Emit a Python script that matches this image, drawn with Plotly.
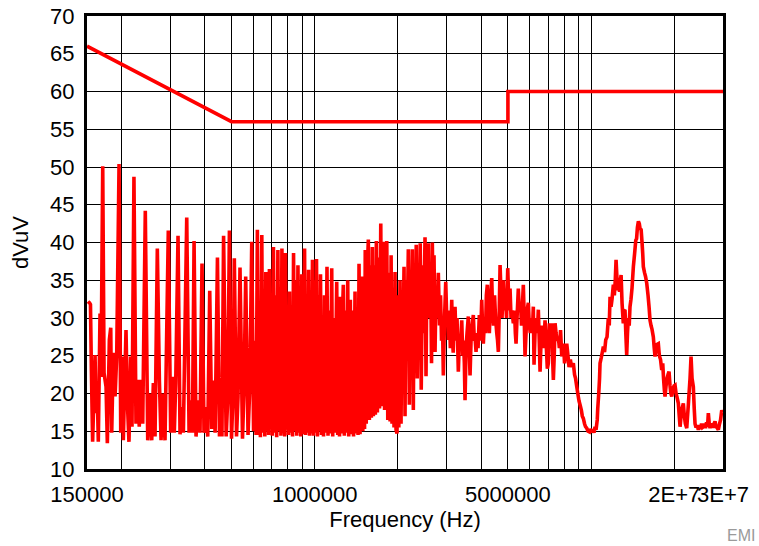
import math
import plotly.graph_objects as go

# ---------------------------------------------------------------------------
# Conducted EMI scan (dBuV) versus frequency, with the CISPR class limit line.
# Scan frequencies are stored in kHz; levels in dBuV.
# ---------------------------------------------------------------------------

# 150 kHz - 615 kHz: switching harmonics standing above the noise floor
harm_khz = [
    151.3, 153.2, 154.4, 155.6, 157.2, 160.4, 161.7, 163.4, 164.8, 167.2,
    168.6, 171.0, 172.9, 175.8, 177.7, 180.7, 182.8, 184.3, 186.8, 189.5,
    192.1, 195.9, 198.7, 201.3, 203.0, 207.6, 209.8, 212.8, 215.8, 218.2,
    221.8, 225.6, 228.8, 231.8, 235.2, 238.6, 243.8, 248.8, 253.6, 257.2,
    260.7, 264.4, 269.5, 274.1, 278.0, 281.8, 287.3, 295.3, 301.2, 306.3,
    310.4, 314.1, 320.2, 325.6, 330.3, 334.8, 344.3, 351.1, 357.0, 360.9,
    366.0, 372.0, 379.3, 384.6, 391.0, 397.6, 404.3, 410.1, 417.0, 424.1,
    430.6, 436.1, 444.7, 452.3, 457.7, 461.6, 468.0, 478.1, 484.3, 491.3,
    500.0, 506.3, 511.8, 521.3, 527.8, 536.6, 547.9, 554.8, 562.7, 573.7,
    582.4, 591.8, 600.8, 608.4, 613.5,
]
harm_db = [
    32.2, 32.0, 31.8, 23.0, 13.6, 25.1, 17.4, 20.0, 13.6, 30.6,
    22.2, 50.1, 22.7, 20.9, 13.4, 27.1, 28.7, 14.8, 25.4, 19.6,
    24.9, 50.4, 14.8, 24.9, 13.8, 28.4, 19.1, 13.6, 24.9, 15.6,
    48.7, 16.0, 21.8, 15.6, 21.8, 16.0, 44.2, 13.8, 20.0, 13.8,
    21.4, 14.3, 39.2, 21.8, 13.8, 20.0, 13.8, 41.6, 14.8, 22.2,
    14.8, 21.4, 40.9, 14.6, 18.2, 14.8, 43.3, 14.8, 19.1, 14.8,
    40.2, 14.3, 19.1, 14.8, 37.2, 14.8, 18.2, 14.3, 33.6, 15.3,
    21.7, 14.8, 38.0, 14.3, 18.6, 14.3, 40.9, 14.3, 19.1, 41.6,
    14.0, 20.0, 37.9, 14.3, 19.5, 36.7, 14.0, 20.5, 35.5, 14.5,
    21.0, 40.1, 15.0, 27.0, 14.5,
]

# 620 kHz - 2.7 MHz: densely packed harmonics
dense_khz = [
    620.2, 625.4, 630.7, 636.0, 643.5, 648.9, 654.3, 659.8, 665.3, 670.9,
    676.5, 681.0, 685.6, 690.8, 696.6, 702.5, 709.0, 715.0, 722.3, 728.4,
    735.8, 742.0, 748.2, 754.6, 760.9, 767.3, 773.7, 778.9, 784.1, 790.7,
    797.3, 804.0, 810.7, 817.5, 824.4, 831.3, 838.3, 845.3, 853.8, 861.0,
    869.6, 876.9, 884.3, 890.2, 897.6, 905.1, 912.7, 918.8, 926.5, 934.3,
    942.1, 950.0, 958.0, 966.0, 974.1, 981.4, 989.7, 998.0, 1006.4, 1014.8,
    1023.3, 1031.9, 1040.5, 1049.3, 1058.0, 1066.9, 1075.9, 1084.9, 1093.9, 1107.7,
    1117.0, 1127.3, 1136.7, 1152.1, 1161.7, 1172.4, 1182.2, 1201.1, 1211.2, 1220.3,
    1229.5, 1237.8, 1248.1, 1258.5, 1269.0, 1279.7, 1292.6, 1303.4, 1316.5, 1327.5,
    1336.4, 1345.4, 1356.6, 1370.3, 1381.7, 1399.1, 1410.8, 1422.5, 1434.4, 1446.4,
    1458.5, 1470.7, 1480.5, 1492.9, 1504.2, 1514.3, 1523.2, 1536.0, 1548.6, 1563.1,
    1576.2, 1589.4, 1602.7, 1616.1, 1629.7, 1643.3, 1657.1, 1671.0, 1685.0, 1702.0,
    1716.2, 1733.6, 1748.1, 1762.8, 1774.6, 1789.5, 1804.5, 1822.7, 1838.0, 1858.2,
    1873.8, 1889.5, 1904.0, 1919.9, 1936.0, 1952.2, 1968.6, 1985.0, 1998.4, 2015.1,
    2035.4, 2052.4, 2069.4, 2086.7, 2104.2, 2121.8, 2139.5, 2157.4, 2181.0, 2199.2,
    2217.6, 2236.1, 2254.8, 2273.7, 2290.9, 2310.0, 2329.3, 2348.8, 2368.5, 2388.3,
    2408.3, 2428.4, 2454.8, 2475.4, 2506.5, 2527.4, 2548.6, 2576.4, 2598.0, 2624.1,
    2646.0, 2663.8, 2686.1,
]
dense_db = [
    41.7, 14.5, 28.0, 14.2, 41.0, 14.8, 30.0, 14.3, 36.1, 15.0,
    32.0, 14.5, 36.5, 15.5, 29.0, 14.4, 39.4, 14.8, 33.0, 14.2,
    39.0, 15.0, 34.0, 14.4, 39.2, 14.7, 32.0, 14.3, 38.6, 15.2,
    30.0, 14.5, 33.5, 14.8, 31.0, 14.3, 38.6, 15.0, 35.0, 14.4,
    37.0, 14.8, 33.0, 14.3, 35.8, 14.6, 30.0, 39.2, 14.5, 33.0,
    14.8, 36.4, 14.4, 32.0, 14.7, 37.7, 14.4, 35.0, 14.8, 37.8,
    14.3, 33.0, 15.0, 35.8, 14.5, 30.0, 14.3, 33.0, 14.8, 36.8,
    14.4, 31.0, 14.7, 36.6, 14.3, 30.0, 14.8, 34.8, 14.5, 28.0,
    14.3, 32.8, 14.7, 30.0, 34.4, 14.4, 31.0, 14.8, 35.0, 14.3,
    29.0, 32.4, 14.6, 31.0, 14.3, 33.5, 14.7, 30.0, 14.5, 37.2,
    14.6, 33.0, 35.5, 15.0, 34.0, 15.3, 39.0, 16.0, 36.0, 40.4,
    16.5, 37.0, 16.8, 39.4, 17.0, 37.0, 17.2, 40.2, 17.5, 38.0,
    18.0, 42.5, 18.3, 38.0, 40.1, 17.8, 37.0, 40.2, 16.5, 36.0,
    16.3, 38.3, 16.0, 34.0, 15.5, 36.1, 15.2, 14.7, 33.0, 15.5,
    35.0, 16.0, 33.0, 26.0, 36.8, 17.0, 35.0, 27.0, 39.1, 18.5,
    36.0, 28.0, 39.1, 17.8, 37.0, 27.0, 39.7, 22.0, 36.0, 29.0,
    39.9, 20.5, 37.0, 28.0, 40.7, 22.3, 38.0, 39.9, 30.0, 37.0,
    24.0, 40.0, 29.3,
]

# 2.7 MHz - 10.8 MHz: broadband hump and the valley near 10 MHz
band_khz = [
    2701.8, 2724.5, 2747.3, 2770.1, 2800.3, 2828.4, 2852.2, 2876.1, 2900.0, 2919.6,
    2949.0, 2978.6, 3003.2, 3023.3, 3043.5, 3069.1, 3094.8, 3131.0, 3152.0, 3170.5,
    3191.8, 3218.6, 3245.5, 3272.3, 3307.9, 3335.6, 3363.6, 3403.1, 3431.6, 3454.6,
    3477.8, 3498.1, 3527.5, 3556.6, 3595.4, 3622.5, 3646.8, 3677.3, 3707.9, 3748.3,
    3779.8, 3802.0, 3833.8, 3865.6, 3897.9, 3940.4, 3980.0, 4020.0, 4047.0, 4074.3,
    4115.3, 4149.8, 4177.6, 4212.0, 4247.5, 4283.0, 4318.8, 4369.5, 4398.7, 4435.6,
    4472.8, 4510.3, 4555.8, 4586.5, 4617.3, 4652.2, 4683.5, 4722.4, 4760.7, 4812.9,
    4853.2, 4894.0, 4943.2, 4992.3, 5025.7, 5059.4, 5089.2, 5131.8, 5174.3, 5230.9,
    5283.7, 5319.2, 5350.5, 5394.4, 5452.4, 5497.9, 5553.1, 5599.5, 5685.0, 5727.5,
    5766.0, 5815.0, 5863.0, 5927.0, 5976.0, 6026.0, 6077.0, 6128.0, 6179.0, 6215.0,
    6267.0, 6335.0, 6388.0, 6442.0, 6491.0, 6535.0, 6589.0, 6643.0, 6716.0, 6755.0,
    6812.0, 6869.0, 6943.0, 7001.0, 7060.0, 7119.0, 7203.0, 7251.0, 7300.0, 7355.0,
    7404.0, 7466.0, 7528.0, 7610.0, 7674.0, 7752.0, 7829.0, 7894.0, 7947.0, 8014.0,
    8081.0, 8162.0, 8251.0, 8320.0, 8411.0, 8495.0, 8624.0, 8711.0, 8784.0, 8873.0,
    8967.0, 9042.0, 9118.0, 9218.0, 9293.0, 9371.0, 9466.0, 9545.0, 9641.0, 9746.0,
    9870.0, 9953.0, 10053.0, 10161.0, 10246.0, 10332.0, 10419.0, 10523.0, 10567.0, 10655.0,
    10727.0, 10771.0,
]
band_db = [
    38.3, 25.5, 34.0, 30.0, 36.0, 29.0, 33.0, 27.0, 29.0, 22.4,
    30.0, 34.8, 30.0, 31.0, 27.1, 31.0, 26.0, 32.4, 27.0, 25.4,
    30.0, 31.5, 27.0, 30.0, 22.9, 27.0, 26.0, 29.7, 25.0, 27.0,
    24.0, 19.1, 26.0, 28.0, 30.2, 26.0, 22.4, 27.0, 29.0, 30.4,
    27.0, 27.5, 25.5, 28.0, 26.0, 30.4, 27.0, 32.4, 29.0, 26.6,
    30.0, 28.0, 33.0, 34.4, 30.0, 28.0, 32.0, 35.3, 31.0, 29.0,
    33.0, 30.0, 28.0, 27.0, 25.5, 31.0, 37.0, 33.0, 30.0, 35.0,
    31.0, 33.0, 30.0, 36.6, 33.0, 31.0, 33.9, 30.0, 31.0, 29.3,
    31.0, 28.0, 26.6, 30.0, 33.9, 31.0, 32.0, 29.0, 34.4, 30.0,
    24.9, 28.0, 31.0, 32.0, 29.0, 28.0, 30.0, 28.0, 31.5, 23.8,
    28.0, 30.0, 28.0, 31.1, 27.0, 22.9, 27.0, 29.0, 26.0, 27.0,
    29.7, 27.0, 23.3, 24.0, 29.3, 27.0, 29.3, 25.0, 21.8, 25.0,
    29.3, 28.0, 27.0, 27.5, 26.0, 28.4, 24.9, 26.0, 26.6, 24.0,
    25.5, 26.6, 24.9, 23.5, 24.5, 23.5, 24.0, 22.5, 22.0, 20.9,
    19.8, 19.0, 18.5, 17.8, 17.0, 16.7, 16.0, 15.6, 15.4, 15.0,
    14.9, 15.3, 14.9, 15.2, 14.8, 15.6, 15.2, 16.5, 18.0, 20.0,
    22.0, 24.0,
]

# 10.9 MHz - 30 MHz: resonance peaks at about 12 MHz and 15 MHz
hf_khz = [
    10889, 10980, 11072, 11183, 11295, 11418, 11542, 11629, 11708, 11806,
    11903, 12034, 12135, 12227, 12309, 12393, 12487, 12592, 12677, 12762,
    12837, 12937, 13073, 13172, 13260, 13349, 13449, 13539, 13630, 13733,
    13825, 13941, 14061, 14218, 14362, 14507, 14605, 14704, 14827, 14941,
    15041, 15168, 15283, 15373, 15450, 15604, 15734, 15893, 16066, 16201,
    16337, 16473, 16610, 16790, 16917, 17030, 17173, 17317, 17505, 17652,
    17830, 18008, 18159, 18281, 18404, 18511, 18666, 18821, 18979, 19137,
    19298, 19427, 19573, 19753, 19953, 20121, 20289, 20456, 20681, 20838,
    20978, 21154, 21326, 21559, 21741, 21923, 22181, 22326, 22476, 22607,
    22796, 22987, 23179, 23431, 23607, 23765, 23964, 24165, 24430, 24674,
    24882, 25091, 25298, 25512, 25725, 25940, 26156, 26375, 26552, 26752,
    26932, 27157, 27382, 27612, 27842, 28078, 28312, 28547, 28860, 29150,
    29394, 29690, 29840,
]
hf_db = [
    24.8, 25.5, 26.2, 25.5, 27.1, 27.5, 30.0, 29.0, 32.8, 31.5,
    32.5, 34.4, 33.0, 35.0, 37.7, 35.5, 33.7, 34.0, 33.5, 35.0,
    35.7, 32.0, 29.3, 31.0, 31.1, 28.0, 25.1, 28.0, 30.0, 29.0,
    31.5, 32.5, 34.0, 36.8, 38.5, 40.3, 40.5, 42.0, 42.8, 42.5,
    41.8, 41.7, 40.0, 38.5, 36.8, 36.0, 35.5, 34.6, 33.0, 31.5,
    29.7, 29.0, 28.5, 27.5, 26.0, 24.9, 26.0, 26.5, 26.6, 25.0,
    24.5, 23.1, 24.0, 22.0, 20.5, 19.6, 21.0, 22.0, 22.5, 22.9,
    21.0, 20.0, 19.6, 20.5, 21.0, 21.1, 20.0, 19.5, 18.7, 17.0,
    15.6, 17.0, 18.0, 18.7, 17.0, 16.0, 15.4, 17.0, 18.5, 20.0,
    22.0, 24.9, 22.0, 20.9, 18.0, 16.0, 15.5, 15.8, 15.2, 15.8,
    15.3, 16.0, 15.5, 15.6, 16.0, 15.4, 16.2, 15.6, 17.4, 16.0,
    15.4, 16.0, 15.8, 15.5, 16.0, 16.3, 15.6, 15.5, 15.2, 16.0,
    16.5, 17.8, 17.5,
]

# Limit line (quasi-peak): 66 -> 56 dBuV log-sloped to 500 kHz, 56 to 5 MHz, 60 above
limit_hz = [150000, 500000, 5000000, 5000000, 30000000]
limit_db = [66, 56, 56, 60, 60]

# Axis ticks: gridlines at every 1-9 multiple per decade, text only at a few
x_grid_hz = [
    200000, 300000, 400000, 500000, 600000, 700000, 800000, 900000,
    1000000, 2000000, 3000000, 4000000, 5000000, 6000000, 7000000, 8000000,
    9000000, 10000000, 20000000,
]
x_label_hz = [150000, 1000000, 5000000, 20000000, 30000000]
x_label_text = ["150000", "1000000", "5000000", "2E+7", "3E+7"]
y_ticks = [10, 15, 20, 25, 30, 35, 40, 45, 50, 55, 60, 65, 70]

for fx, fy in ((harm_khz, harm_db), (dense_khz, dense_db),
               (band_khz, band_db), (hf_khz, hf_db)):
    assert len(fx) == len(fy)

scan_hz = [f * 1000.0 for f in harm_khz + dense_khz + band_khz + hf_khz]
scan_db = harm_db + dense_db + band_db + hf_db

tick_vals = sorted(set(x_grid_hz + x_label_hz))
label_map = dict(zip(x_label_hz, x_label_text))
tick_text = [label_map.get(v, "") for v in tick_vals]

FONT = "Liberation Sans, Arial, sans-serif"

fig = go.Figure()
fig.add_trace(go.Scatter(
    x=scan_hz, y=scan_db, mode="lines",
    line=dict(color="#FF0000", width=3.6, simplify=False), name="Scan",
))
fig.add_trace(go.Scatter(
    x=limit_hz, y=limit_db, mode="lines",
    line=dict(color="#FF0000", width=3.6), name="Limit",
))

fig.update_layout(
    width=759, height=546,
    margin=dict(l=87, r=36, t=16, b=77, pad=0, autoexpand=False),
    paper_bgcolor="white", plot_bgcolor="white",
    showlegend=False,
    font=dict(family=FONT, size=22, color="black"),
    xaxis=dict(
        type="log",
        range=[math.log10(150000) - 1e-6, math.log10(30000000) + 1e-6],
        tickmode="array", tickvals=tick_vals, ticktext=tick_text,
        tickangle=0, automargin=False,
        ticks="outside", ticklen=4, tickcolor="rgba(0,0,0,0)",
        tickfont=dict(family=FONT, size=22, color="black"),
        showgrid=True, gridcolor="black", gridwidth=1,
        showline=True, linecolor="black", linewidth=3, mirror=True,
        zeroline=False,
        title=dict(text="Frequency (Hz)", standoff=4,
                   font=dict(family=FONT, size=22, color="black")),
    ),
    yaxis=dict(
        range=[10, 70],
        tickmode="array", tickvals=y_ticks,
        automargin=False,
        ticks="outside", ticklen=5, tickcolor="rgba(0,0,0,0)",
        tickfont=dict(family=FONT, size=22, color="black"),
        showgrid=True, gridcolor="black", gridwidth=1,
        showline=True, linecolor="black", linewidth=3, mirror=True,
        zeroline=False,
        title=dict(text="dVuV", standoff=16,
                   font=dict(family=FONT, size=22, color="black")),
    ),
    annotations=[dict(
        text="EMI", xref="paper", yref="paper",
        x=(757 - 87) / 636, y=(469 - 535) / 453,
        xanchor="right", yanchor="middle", showarrow=False,
        font=dict(family=FONT, size=16, color="#9a9a9a"),
    )],
)

fig.write_html("out.html")
